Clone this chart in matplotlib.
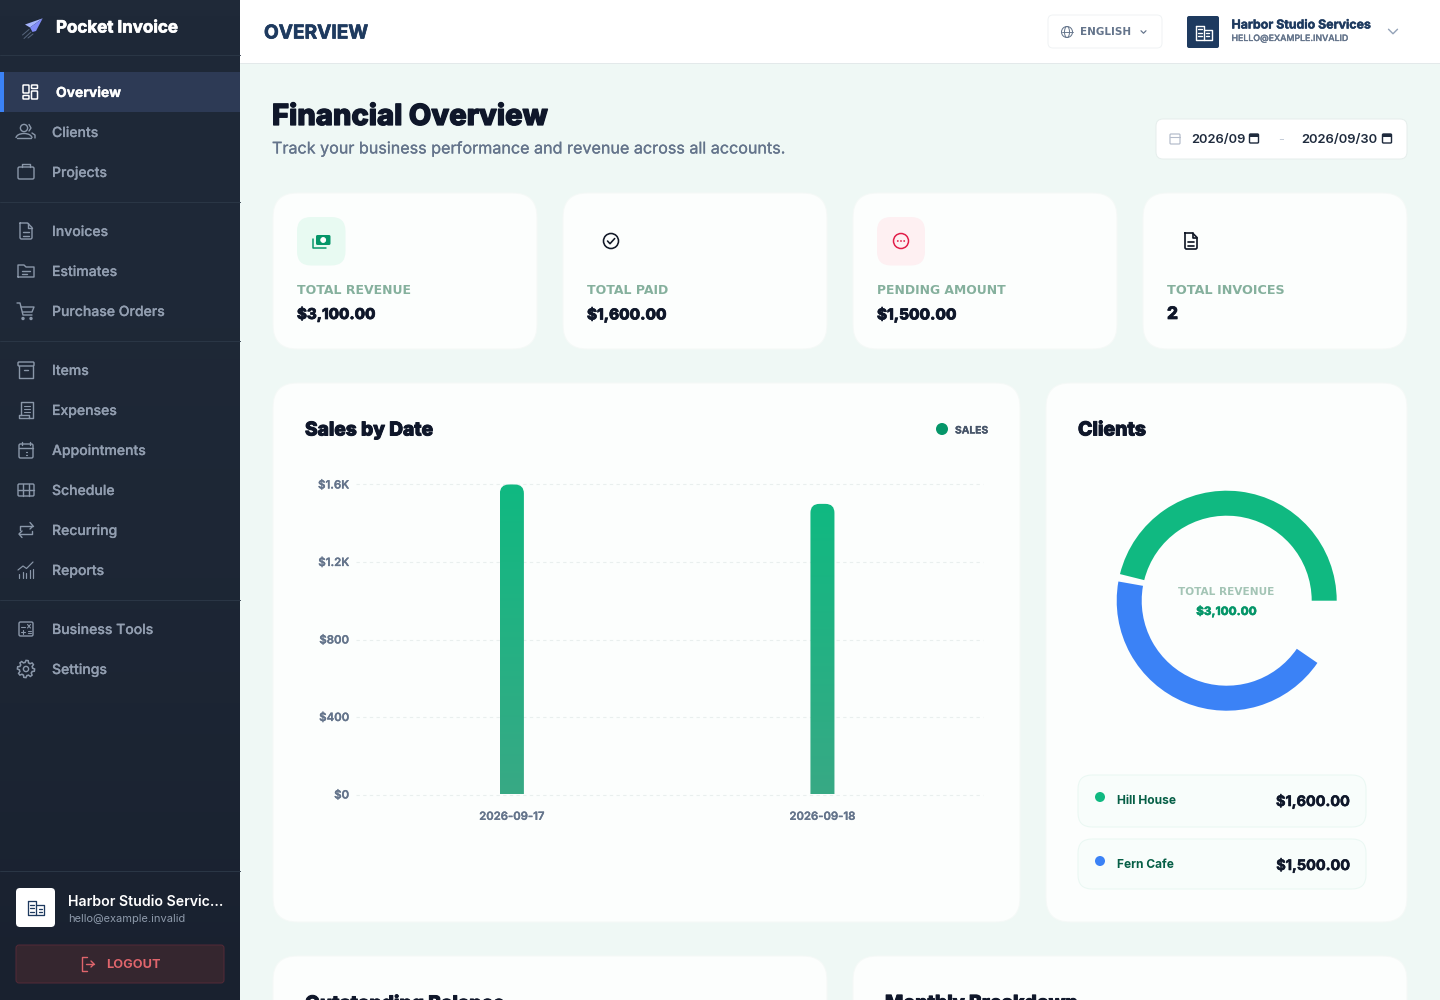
import numpy as np
from matplotlib import pyplot as plt
from matplotlib import patheffects
from matplotlib.patches import Circle, FancyBboxPatch, Polygon, Arc
from matplotlib.transforms import IdentityTransform

# chart data
sale_dates = ['2026-09-17', '2026-09-18']
sales = [1600, 1500]
sale_ticks = [0, 400, 800, 1200, 1600]
sale_tick_labels = ['$0', '$400', '$800', '$1.2K', '$1.6K']
clients = ['Hill House', 'Fern Cafe']
client_values = [1600, 1500]
client_labels = ['$1,600.00', '$1,500.00']
client_name_widths = [59, 57]
client_colors = ['#10b981', '#3b82f6']
# the donut leaves a small gap and an open part, in the same units as the values
donut_gap = 38
donut_open = 332

nav_labels = ['Clients', 'Projects', 'Invoices', 'Estimates', 'Purchase Orders', 'Items', 'Expenses',
              'Appointments', 'Schedule', 'Recurring', 'Reports', 'Business Tools', 'Settings']
nav_rows = [132, 172, 231, 271, 311, 370, 410, 450, 490, 530, 570, 629, 669]
nav_lines = [55, 202, 341, 600, 871]

stat_labels = ['TOTAL REVENUE', 'TOTAL PAID', 'PENDING AMOUNT', 'TOTAL INVOICES']
stat_values = ['$3,100.00', '$1,600.00', '$1,500.00', '2']
stat_lefts = [273, 563, 853, 1143]
stat_label_widths = [115, 82, 130, 118]
stat_value_widths = [78, 79, 79, 11]

FONT = 'Inter'
WIDE = 'DejaVu Sans'
INK = '#0f172a'
NAVY = '#1e3a5f'
SLATE = '#64748b'
ICON = '#8a97a9'
NAV_TEXT = '#929eb0'

plt.rcParams['font.family'] = [FONT, 'DejaVu Sans']
fig = plt.figure(figsize=(14.4, 10), dpi=100, facecolor='#eff8f5')
page = fig.add_axes([0, 0, 1, 1])
page.set_xlim(0, 1440)
page.set_ylim(1000, 0)
page.axis('off')
renderer = fig.canvas.get_renderer()


def box(x0, y0, x1, y1, r, fc, ec='none', lw=0.0, z=2):
    patch = FancyBboxPatch((x0, y0), x1 - x0, y1 - y0, boxstyle='round,pad=0,rounding_size={}'.format(r),
                           fc=fc, ec=ec, lw=lw * 0.72, zorder=z, mutation_aspect=1)
    page.add_patch(patch)
    return patch


def stroke(points, color=ICON, lw=1.4, z=5):
    xs, ys = zip(*points)
    page.plot(xs, ys, color=color, lw=lw * 0.72, zorder=z, solid_capstyle='round', solid_joinstyle='round')


def ring(cx, cy, r, color=ICON, lw=1.4, fc='none', z=5):
    page.add_patch(Circle((cx, cy), r, fc=fc, ec=color, lw=lw * 0.72, zorder=z))


def label(x, y, s, px, weight='normal', color=INK, ha='left', width=None, heavy=0.0, family=FONT, z=6):
    t = page.text(x, y + 1, s, fontsize=px * 0.72, fontweight=weight, color=color, ha=ha, va='center', zorder=z,
                  family=[family, 'DejaVu Sans'])
    if width:
        t.set_fontsize(px * 0.72 * width / t.get_window_extent(renderer).width)
    if heavy:
        t.set_path_effects([patheffects.withStroke(linewidth=heavy, foreground=color)])
    return t


def chevron(cx, cy, w, color, lw=1.3):
    stroke([(cx - w, cy - w / 2), (cx, cy + w / 2), (cx + w, cy - w / 2)], color, lw)


def building(cx, cy, color, lw=1.4):
    stroke([(cx - 8, cy - 7), (cx, cy - 7), (cx, cy + 7), (cx - 8, cy + 7), (cx - 8, cy - 7)], color, lw)
    stroke([(cx, cy - 3), (cx + 8, cy - 3), (cx + 8, cy + 7), (cx, cy + 7)], color, lw)
    for dy in (-3.5, 0, 3.5):
        stroke([(cx - 6, cy + dy), (cx - 2, cy + dy)], color, lw)
    for dy in (0.5, 3.5):
        stroke([(cx + 2.5, cy + dy), (cx + 5.5, cy + dy)], color, lw)


def doc_icon(cx, cy, color=ICON, lw=1.4):
    stroke([(cx - 6, cy - 8), (cx + 1.5, cy - 8), (cx + 6, cy - 3.5), (cx + 6, cy + 7), (cx + 5, cy + 8),
            (cx - 5, cy + 8), (cx - 6, cy + 7), (cx - 6, cy - 8)], color, lw)
    stroke([(cx + 1.5, cy - 8), (cx + 1.5, cy - 3.5), (cx + 6, cy - 3.5)], color, lw)
    stroke([(cx - 3, cy + 1), (cx + 3, cy + 1)], color, lw)
    stroke([(cx - 3, cy + 4.5), (cx + 3, cy + 4.5)], color, lw)


def clients_icon(cx, cy):
    ring(cx - 2, cy - 4, 3.6)
    page.add_patch(Arc((cx - 2, cy + 6), 16, 9, theta1=180, theta2=360, ec=ICON, lw=1, zorder=5))
    stroke([(cx - 9, cy + 6), (cx + 5, cy + 6)])
    stroke([(cx + 3, cy - 7.5), (cx + 5, cy - 4), (cx + 3, cy - 1)])
    stroke([(cx + 6, cy + 1), (cx + 9, cy + 3), (cx + 9, cy + 6)])


def briefcase_icon(cx, cy):
    box(cx - 8, cy - 5, cx + 8, cy + 7, 1.5, 'none', ICON, 1.4, z=5)
    stroke([(cx - 4, cy - 5), (cx - 4, cy - 8), (cx + 4, cy - 8), (cx + 4, cy - 5)])


def folder_icon(cx, cy):
    stroke([(cx - 8, cy + 6), (cx - 8, cy - 6), (cx - 2, cy - 6), (cx, cy - 4), (cx + 8, cy - 4), (cx + 8, cy + 6),
            (cx - 8, cy + 6)])
    stroke([(cx - 4, cy), (cx + 4, cy)])
    stroke([(cx - 4, cy + 3), (cx + 1, cy + 3)])


def cart_icon(cx, cy):
    stroke([(cx - 9, cy - 8), (cx - 6, cy - 8), (cx - 3, cy + 4), (cx + 6, cy + 4)])
    stroke([(cx - 5, cy - 4), (cx + 8, cy - 4), (cx + 6, cy + 1), (cx - 3.5, cy + 1)])
    ring(cx - 3, cy + 7.5, 1, fc=ICON)
    ring(cx + 5, cy + 7.5, 1, fc=ICON)


def archive_icon(cx, cy):
    box(cx - 8, cy - 8, cx + 8, cy - 4, 1, 'none', ICON, 1.4, z=5)
    stroke([(cx - 7, cy - 4), (cx - 7, cy + 8), (cx + 7, cy + 8), (cx + 7, cy - 4)])
    stroke([(cx - 2, cy), (cx + 2, cy)])


def receipt_icon(cx, cy):
    stroke([(cx - 5, cy + 5), (cx - 5, cy - 8), (cx + 7, cy - 8), (cx + 7, cy + 8), (cx - 7, cy + 8), (cx - 7, cy + 5),
            (cx + 3, cy + 5), (cx + 3, cy + 8)])
    for dy in (-4.5, -1.5, 1.5):
        stroke([(cx - 2, cy + dy), (cx + 4, cy + dy)], lw=1.1)


def calendar_icon(cx, cy):
    box(cx - 7, cy - 6, cx + 7, cy + 8, 1.5, 'none', ICON, 1.4, z=5)
    stroke([(cx - 7, cy - 2), (cx + 7, cy - 2)])
    stroke([(cx - 4, cy - 8), (cx - 4, cy - 5)])
    stroke([(cx + 4, cy - 8), (cx + 4, cy - 5)])
    for dx in (-3.5, 0, 3.5):
        for dy in (1.5, 4.5):
            stroke([(cx + dx, cy + dy), (cx + dx + 0.6, cy + dy)], lw=1.2)


def table_icon(cx, cy):
    box(cx - 8, cy - 6, cx + 8, cy + 6, 1.2, 'none', ICON, 1.4, z=5)
    stroke([(cx - 8, cy), (cx + 8, cy)])
    stroke([(cx - 2.7, cy - 6), (cx - 2.7, cy + 6)])
    stroke([(cx + 2.7, cy - 6), (cx + 2.7, cy + 6)])


def repeat_icon(cx, cy):
    stroke([(cx - 6, cy - 0.5), (cx - 6, cy - 4), (cx + 7, cy - 4)])
    stroke([(cx + 4, cy - 7.5), (cx + 7, cy - 4), (cx + 4, cy - 1)])
    stroke([(cx + 6, cy + 0.5), (cx + 6, cy + 4), (cx - 7, cy + 4)])
    stroke([(cx - 4, cy + 7.5), (cx - 7, cy + 4), (cx - 4, cy + 1)])


def reports_icon(cx, cy):
    for dx, top in zip((-7, -3.5, 0, 3.5, 7), (4, 2, 3, 0, -1)):
        stroke([(cx + dx, cy + 8), (cx + dx, cy + top)], lw=1.2)
    stroke([(cx - 8, cy), (cx - 3, cy - 4), (cx + 0.5, cy - 1.5), (cx + 7, cy - 8)], lw=1.2)


def tools_icon(cx, cy):
    box(cx - 7, cy - 7, cx + 7, cy + 7, 1.5, 'none', ICON, 1.4, z=5)
    stroke([(cx - 5, cy - 2.5), (cx - 1.5, cy - 2.5)], lw=1.1)
    stroke([(cx + 1.5, cy - 4.5), (cx + 4.5, cy - 1)], lw=1.1)
    stroke([(cx + 4.5, cy - 4.5), (cx + 1.5, cy - 1)], lw=1.1)
    stroke([(cx - 5, cy + 3), (cx - 1.5, cy + 3)], lw=1.1)
    stroke([(cx - 3.2, cy + 1), (cx - 3.2, cy + 5)], lw=1.1)
    stroke([(cx + 1.5, cy + 1.8), (cx + 4.5, cy + 1.8)], lw=1.1)
    stroke([(cx + 1.5, cy + 4.2), (cx + 4.5, cy + 4.2)], lw=1.1)


def gear_icon(cx, cy):
    angles = np.radians(np.arange(0, 360, 7.5))
    radius = np.where((np.arange(48) % 6) < 3, 8.6, 6.6)
    page.add_patch(Polygon(np.c_[cx + radius * np.cos(angles), cy + radius * np.sin(angles)], closed=True,
                           fc='none', ec=ICON, lw=1.1, zorder=5))
    ring(cx, cy, 2.6)


def logout_icon(cx, cy, color):
    stroke([(cx - 1, cy - 7), (cx - 6, cy - 7), (cx - 6, cy + 7), (cx - 1, cy + 7)], color)
    stroke([(cx - 2, cy), (cx + 6, cy)], color)
    stroke([(cx + 3, cy - 3), (cx + 6, cy), (cx + 3, cy + 3)], color)


# sidebar
shade = np.linspace(0, 1, 64)[:, None, None] ** 2
sidebar = (1 - shade) * np.array([31, 41, 56]) + shade * np.array([25, 33, 47])
page.imshow(sidebar.astype(np.uint8), extent=(0, 240, 1000, 0), aspect='auto', zorder=1)
page.set_xlim(0, 1440)
page.set_ylim(1000, 0)
for y in nav_lines:
    stroke([(0, y), (240, y)], '#2a3645', 1, 2)
page.add_patch(Polygon([(42.7, 18.3), (25, 24.5), (30, 27.5)], fc='#a5b4fc', zorder=5))
page.add_patch(Polygon([(42.7, 18.3), (30, 27.5), (32.5, 32), (36, 31)], fc='#818cf8', zorder=5))
stroke([(29, 29.5), (22.5, 35)], '#56657c', 1)
stroke([(31, 32), (24, 38.5)], '#56657c', 1)
stroke([(33, 34), (28, 38)], '#56657c', 1)
label(56, 27, 'Pocket Invoice', 18.5, 'bold', 'white', width=122, heavy=0.5)

page.add_patch(plt.Rectangle((0, 72), 240, 40, fc='#2d3a55', zorder=2))
page.add_patch(plt.Rectangle((0, 72), 4, 40, fc='#3b82f6', zorder=3))
for x0, y0, x1, y1 in [(23, 85, 29, 93), (23, 95.5, 29, 99), (31.5, 85, 37.5, 88.5), (31.5, 91, 37.5, 99)]:
    box(x0, y0, x1, y1, 0.6, 'none', 'white', 1.5, z=5)
label(56, 92, 'Overview', 14.5, 'bold', 'white', width=65, heavy=0.2)

nav_icons = [clients_icon, briefcase_icon, doc_icon, folder_icon, cart_icon, archive_icon, receipt_icon,
             calendar_icon, table_icon, repeat_icon, reports_icon, tools_icon, gear_icon]
for name, y, icon in zip(nav_labels, nav_rows, nav_icons):
    icon(26, y)
    label(52, y, name, 14, 'medium', NAV_TEXT, heavy=0.15)

box(16, 888, 55, 927, 4, 'white', z=3)
building(36, 908, NAVY, 1.3)
label(68, 900.5, 'Harbor Studio Servic...', 14.5, 'semibold', 'white', width=155)
label(68, 917.5, 'hello@example.invalid', 11.5, 'normal', '#8e9aab', width=116)
box(16, 945, 224, 983, 3, '#35262f', '#542a37', 1, z=3)
logout_icon(88, 964, '#e0656c')
label(106, 964.5, 'LOGOUT', 12, 'bold', '#e0656c', width=54)

# header
page.add_patch(plt.Rectangle((240, 0), 1200, 63, fc='white', zorder=1))
stroke([(240, 63), (1440, 63)], '#e3e9ea', 1, 2)
label(264, 32.5, 'OVERVIEW', 21, 'bold', NAVY, width=104, heavy=0.5)
box(1048, 15, 1162, 48, 5, 'white', '#f0f3f4', 1)
ring(1067, 32, 5.5, SLATE, 1)
stroke([(1061.5, 32), (1072.5, 32)], SLATE, 0.9)
page.add_patch(Arc((1067, 32), 5, 11, ec=SLATE, lw=0.7, zorder=5))
label(1080, 31, 'ENGLISH', 11, 'bold', SLATE, width=51, family=WIDE)
chevron(1143.5, 32, 2.5, SLATE, 1.2)
box(1187, 16, 1219, 48, 2, NAVY)
building(1203.5, 32.5, 'white', 1.4)
label(1231.5, 24.5, 'Harbor Studio Services', 12.5, 'bold', NAVY, width=139, heavy=0.3)
label(1231.5, 37.5, 'HELLO@EXAMPLE.INVALID', 9.5, 'medium', SLATE, width=116, heavy=0.2)
chevron(1393, 31.5, 4.5, '#94a3b8', 1.4)

# page heading and date range
label(272, 116.5, 'Financial Overview', 32, 'heavy', INK, width=275, heavy=0.9)
label(272, 148, 'Track your business performance and revenue across all accounts.', 17, 'normal', SLATE, width=511,
      heavy=0.15)
box(1156, 119, 1407, 159, 7, 'white', '#e6eeec', 1)
box(1170, 134, 1180, 144, 1, 'none', '#b4bccb', 1.2, z=5)
stroke([(1170, 137), (1180, 137)], '#b4bccb', 1.1)
label(1191.5, 138.5, '2026/09', 13.5, 'semibold', '#1f2b3d', width=54)
label(1301.5, 138.5, '2026/09/30', 13.5, 'semibold', '#1f2b3d', width=76)
for x in (1254, 1387):
    box(x - 4.5, 134, x + 4.5, 143, 1, 'none', '#1f2b3d', 1.4, z=5)
    page.add_patch(plt.Rectangle((x - 4.5, 134), 9, 3, fc='#1f2b3d', zorder=5))
label(1281, 139, '-', 13, 'normal', '#c4ccd8', ha='center')

# stat cards
for left, name, value, name_w, value_w in zip(stat_lefts, stat_labels, stat_values, stat_label_widths,
                                              stat_value_widths):
    box(left, 193, left + 264, 349, 24, '#fcfefd', '#f5f9f7', 1)
    label(left + 24, 289.5, name, 12, 'bold', '#85b09d', width=name_w, family=WIDE)
    label(left + 24, 313.5, value, 19, 'heavy', INK, width=value_w, heavy=0.5)

box(297, 217, 345.5, 265.5, 14, '#e8faf2', z=3)
box(316, 235, 330.5, 245, 1.5, '#059669', z=5)
ring(323.2, 240, 2.4, 'white', 1, fc='white')
stroke([(312.5, 239), (312.5, 247.5), (326, 247.5)], '#059669', 1.5)
ring(611, 241, 7.5, '#111827', 1.6)
stroke([(607.5, 241), (610, 243.7), (614.7, 238.5)], '#111827', 1.6)
box(877, 217, 925, 265.5, 14, '#fef0f2', z=3)
ring(901, 241, 7.5, '#e11d48', 1.5)
for dx in (-3.2, 0, 3.2):
    page.add_patch(Circle((901 + dx, 241), 0.9, fc='#e11d48', zorder=6))
doc_icon(1191, 241, '#111827', 1.7)

# large cards
box(273, 383, 1020, 922, 24, '#fcfefd', '#f5f9f7', 1)
box(1046, 383, 1407, 922, 24, '#fcfefd', '#f5f9f7', 1)
box(273, 956, 827, 1040, 24, '#fcfefd', '#f5f9f7', 1)
box(853, 956, 1407, 1040, 24, '#fcfefd', '#f5f9f7', 1)
label(305, 429.5, 'Sales by Date', 22, 'heavy', INK, width=128, heavy=0.7)
label(1078, 429.5, 'Clients', 22, 'heavy', INK, width=68, heavy=0.7)
label(305, 1003, 'Outstanding Balance', 22, 'heavy', INK, width=200, heavy=0.7)
label(885, 1003, 'Monthly Breakdown', 22, 'heavy', INK, width=193, heavy=0.7)
page.add_patch(Circle((942, 429), 6, fc='#059669', zorder=5))
label(955, 429.5, 'SALES', 10, 'bold', '#475569', width=33, heavy=0.2)

# sales bars, their own axes with the real value scale
chart = fig.add_axes([356 / 1440, 1 - 794.5 / 1000, 627 / 1440, 310 / 1000])
chart.patch.set_alpha(0)
positions = np.arange(len(sales))
bars = chart.bar(positions, sales, width=24 / 310.5, color='none', zorder=3)
chart.set_xlim(-0.502, 1.517)
chart.set_ylim(0, 1600)
chart.set_yticks(sale_ticks)
chart.set_yticklabels(sale_tick_labels)
chart.set_xticks(positions)
chart.set_xticklabels(sale_dates)
chart.tick_params(axis='y', length=0, pad=5, labelsize=11.4 * 0.72, labelcolor=SLATE)
chart.tick_params(axis='x', length=0, pad=12.5, labelsize=11.3 * 0.72, labelcolor=SLATE)
for tick in chart.get_xticklabels() + chart.get_yticklabels():
    tick.set_fontweight('semibold')
    tick.set_path_effects([patheffects.withStroke(linewidth=0.2, foreground=SLATE)])
for spine in chart.spines.values():
    spine.set_visible(False)
chart.grid(axis='y', color='#e9efee', lw=0.8, ls=(0, (3, 3)), zorder=0)
for line in chart.get_ygridlines():
    line.set_clip_on(False)

bar_shade = np.linspace(0, 1, 128)[:, None, None]
bar_colors = (1 - bar_shade) * np.array([16, 185, 129]) + bar_shade * np.array([56, 169, 133])
for bar in bars:
    x0, x1 = bar.get_x(), bar.get_x() + bar.get_width()
    top = bar.get_height()
    (px0, py0), (px1, py1) = chart.transData.transform([(x0, 0), (x1, top)])
    outline = FancyBboxPatch((px0, py0 - 30), px1 - px0, py1 - py0 + 30, boxstyle='round,pad=0,rounding_size=9',
                             transform=IdentityTransform())
    image = chart.imshow(bar_colors.astype(np.uint8), extent=(x0, x1, 0, top), aspect='auto', zorder=3)
    image.set_clip_path(outline)
chart.set_xlim(-0.502, 1.517)
chart.set_ylim(0, 1600)

# clients donut
donut = fig.add_axes([1116.7 / 1440, 1 - 710.7 / 1000, 220 / 1440, 220 / 1000])
donut_values = [client_values[0], donut_gap, client_values[1], donut_open]
donut_colors = [client_colors[0], 'none', client_colors[1], 'none']
donut.pie(donut_values, colors=donut_colors, startangle=0, radius=1, wedgeprops={'width': 25 / 110, 'lw': 0})
donut.set_xlim(-1, 1)
donut.set_ylim(-1, 1)
label(1226.5, 591, 'TOTAL REVENUE', 10, 'bold', '#a3c4b5', ha='center', width=96, family=WIDE)
label(1226.5, 610, '$3,100.00', 14, 'heavy', '#059669', ha='center', width=60, heavy=0.3)

for name, value, color, y0, y1, name_w in zip(clients, client_labels, client_colors, (775, 839), (827, 889),
                                              client_name_widths):
    box(1078, y0, 1366, y1, 14, '#f8fdfb', '#eaf8f3', 1)
    page.add_patch(Circle((1100, y0 + 22), 5, fc=color, zorder=5))
    label(1117, y0 + 24.5, name, 12.5, 'bold', '#065f46', width=name_w)
    label(1350, y0 + 25.5, value, 15.5, 'bold', INK, ha='right', width=74, heavy=0.4)

fig.savefig('out.png', dpi=100, facecolor=fig.get_facecolor())
